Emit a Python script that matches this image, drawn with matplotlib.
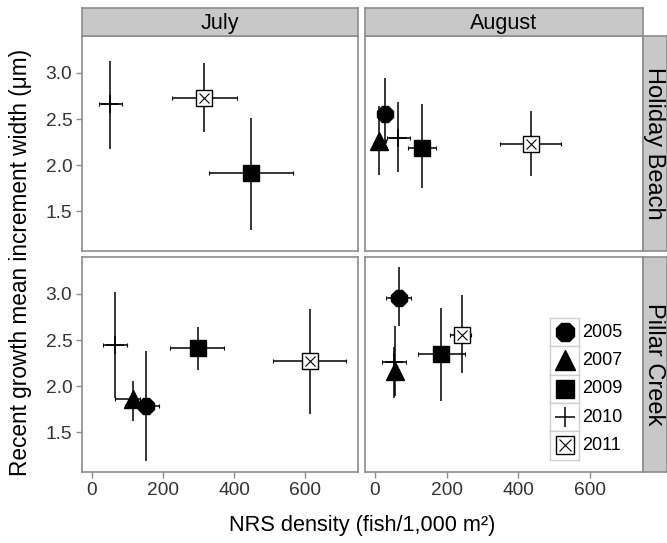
import numpy as np
import matplotlib.pyplot as plt

plt.rcParams['font.family'] = ['Liberation Sans', 'DejaVu Sans']

years = [2005, 2007, 2009, 2010, 2011]
sites = ["Holiday Beach", "Pillar Creek"]
months = ["July", "August"]

# NRS density (fish/1,000 m2): mean, lower, upper; NaN = year not sampled
nan = np.nan
dens = {
    ("Holiday Beach", "July"):   [nan, nan, 447, 51, 315],
    ("Holiday Beach", "August"): [29, 12, 131, 64, 436],
    ("Pillar Creek", "July"):    [152, 116, 298, 65, 613],
    ("Pillar Creek", "August"):  [66, 57, 183, 53, 242],
}
dens_lo = {
    ("Holiday Beach", "July"):   [nan, nan, 329, 20, 225],
    ("Holiday Beach", "August"): [8, 3, 92, 33, 349],
    ("Pillar Creek", "July"):    [93, 65, 219, 31, 509],
    ("Pillar Creek", "August"):  [31, 47, 120, 20, 209],
}
dens_hi = {
    ("Holiday Beach", "July"):   [nan, nan, 566, 84, 408],
    ("Holiday Beach", "August"): [50, 30, 170, 97, 520],
    ("Pillar Creek", "July"):    [189, 135, 371, 98, 714],
    ("Pillar Creek", "August"):  [101, 67, 251, 87, 267],
}

# recent growth mean increment width (um): mean, lower, upper
growth = {
    ("Holiday Beach", "July"):   [nan, nan, 1.91, 2.66, 2.73],
    ("Holiday Beach", "August"): [2.56, 2.26, 2.19, 2.30, 2.23],
    ("Pillar Creek", "July"):    [1.78, 1.86, 2.41, 2.45, 2.27],
    ("Pillar Creek", "August"):  [2.96, 2.16, 2.35, 2.26, 2.56],
}
growth_lo = {
    ("Holiday Beach", "July"):   [nan, nan, 1.30, 2.18, 2.36],
    ("Holiday Beach", "August"): [2.18, 1.89, 1.75, 1.93, 1.88],
    ("Pillar Creek", "July"):    [1.19, 1.62, 2.17, 1.87, 1.70],
    ("Pillar Creek", "August"):  [2.65, 1.89, 1.84, 1.87, 2.14],
}
growth_hi = {
    ("Holiday Beach", "July"):   [nan, nan, 2.51, 3.13, 3.11],
    ("Holiday Beach", "August"): [2.94, 2.64, 2.66, 2.69, 2.59],
    ("Pillar Creek", "July"):    [2.38, 2.06, 2.64, 3.02, 2.84],
    ("Pillar Creek", "August"):  [3.29, 2.65, 2.85, 2.43, 2.99],
}

W, H = 667, 543
fig = plt.figure(figsize=(W / 100, H / 100), dpi=100)
frame = "#8c8c8c"
strip_fill = "#c8c8c8"
txt = "#333333"


def px_axes(x0, y0, x1, y1, **kw):
    return fig.add_axes([x0 / W, 1 - y1 / H, (x1 - x0) / W, (y1 - y0) / H], **kw)


def draw_marker(ax, x, y, year, size=11):
    if year == 2005:
        ax.plot(x, y, marker='8', ms=size * 1.1, color='black', ls='none', zorder=3)
    elif year == 2007:
        ax.plot(x, y, marker='^', ms=size * 1.2, color='black', ls='none', zorder=3)
    elif year == 2009:
        ax.plot(x, y, marker='s', ms=size, color='black', ls='none', zorder=3)
    elif year == 2010:
        ax.plot(x, y, marker='+', ms=size * 1.2, mew=1.1, color='black', ls='none', zorder=3)
    else:
        ax.plot(x, y, marker='s', ms=size, mfc='white', mec='black', mew=1.0, ls='none', zorder=3)
        ax.plot(x, y, marker='x', ms=size * 0.7, mew=0.8, color='black', ls='none', zorder=4)


def style_strip(sax):
    sax.set_facecolor(strip_fill)
    sax.set_xticks([])
    sax.set_yticks([])
    for s in sax.spines.values():
        s.set_color(frame)
        s.set_linewidth(1.2)


col_x = [(82, 358), (365, 643)]
row_y = [(36, 251), (257, 472)]

for r, site in enumerate(sites):
    for c, month in enumerate(months):
        ax = px_axes(col_x[c][0], row_y[r][0], col_x[c][1], row_y[r][1])
        key = (site, month)
        for i, yr in enumerate(years):
            x, y = dens[key][i], growth[key][i]
            if np.isnan(x):
                continue
            ax.errorbar(x, y, xerr=[[x - dens_lo[key][i]], [dens_hi[key][i] - x]],
                        fmt='none', ecolor='black', elinewidth=1.1, capsize=1.5,
                        capthick=0.8, zorder=2)
            ax.errorbar(x, y, yerr=[[y - growth_lo[key][i]], [growth_hi[key][i] - y]],
                        fmt='none', ecolor='black', elinewidth=1.1, capsize=0, zorder=2)
            draw_marker(ax, x, y, yr)
        ax.set_xlim(-28, 748)
        ax.set_ylim(1.07, 3.40)
        ax.set_xticks([0, 200, 400, 600])
        ax.set_yticks([1.5, 2.0, 2.5, 3.0])
        ax.set_yticklabels(["1.5", "2.0", "2.5", "3.0"])
        for s in ax.spines.values():
            s.set_color(frame)
            s.set_linewidth(1.2)
        ax.tick_params(length=4, width=1, color=frame, labelcolor=txt, labelsize=13.8, pad=3,
                       left=(c == 0), labelleft=(c == 0), bottom=(r == 1), labelbottom=(r == 1))

        if r == 0:
            sax = px_axes(col_x[c][0], 8, col_x[c][1], 36)
            style_strip(sax)
            sax.text(0.5, 0.45, month, ha='center', va='center', fontsize=15.5, color='black',
                     transform=sax.transAxes)
        if c == 1:
            sax = px_axes(643, row_y[r][0], 667, row_y[r][1])
            style_strip(sax)
            sax.text(0.45, 0.5, site, ha='center', va='center', rotation=-90, fontsize=17,
                     color='black', transform=sax.transAxes)

# legend: one bordered key box per year
key_top, key_h = 318, 28.3
for i, yr in enumerate(years):
    y0 = key_top + i * key_h
    kax = px_axes(550, y0, 579, y0 + key_h)
    kax.set_xlim(0, 1)
    kax.set_ylim(0, 1)
    kax.set_xticks([])
    kax.set_yticks([])
    for s in kax.spines.values():
        s.set_color("#d0d0d0")
        s.set_linewidth(1.0)
    draw_marker(kax, 0.5, 0.5, yr, size=12.5)
    fig.text(582 / W, 1 - (y0 + key_h / 2) / H, str(yr), ha='left', va='center',
             fontsize=13, color='black')

fig.text(362 / W, 1 - 525 / H, "NRS density (fish/1,000 m²)", ha='center', va='center',
         fontsize=15.7, color='black')
fig.text(21 / W, 1 - 262 / H, "Recent growth mean increment width (μm)", ha='center',
         va='center', rotation=90, fontsize=16.3, color='black')

fig.savefig("out.png", dpi=100)
